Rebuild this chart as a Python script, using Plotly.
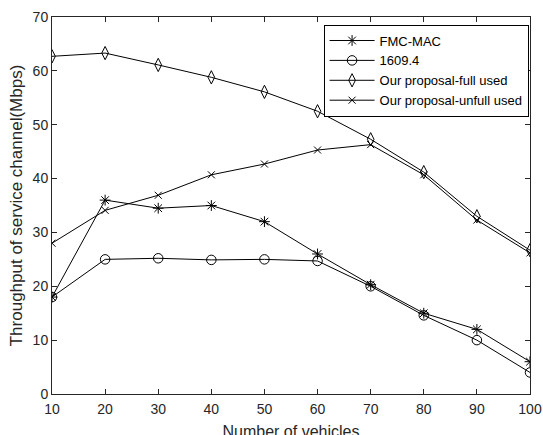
import plotly.graph_objects as go

vehicles = [10, 20, 30, 40, 50, 60, 70, 80, 90, 100]
fmc_mac = [18, 36, 34.5, 35, 32, 26, 20.3, 15, 12, 6]
ieee_1609 = [18, 25, 25.2, 24.9, 25, 24.7, 20, 14.6, 10, 4]
full_used = [62.7, 63.3, 61.1, 58.8, 56.1, 52.5, 47.3, 41.2, 33, 26.7]
unfull_used = [28, 34.1, 36.9, 40.7, 42.7, 45.3, 46.3, 40.7, 32.3, 26.2]

x_ticks = [10, 20, 30, 40, 50, 60, 70, 80, 90, 100]
y_ticks = [0, 10, 20, 30, 40, 50, 60, 70]

series = [
    ("FMC-MAC", fmc_mac, "asterisk-open", 9),
    ("1609.4", ieee_1609, "circle-open", 9.5),
    ("Our proposal-full used", full_used, "diamond-tall-open", 9.5),
    ("Our proposal-unfull used", unfull_used, "x-thin-open", 7),
]

fig = go.Figure()
for name, vals, sym, size in series:
    fig.add_trace(go.Scatter(
        x=vehicles, y=vals, name=name, mode="lines+markers",
        line=dict(color="black", width=1),
        marker=dict(symbol=sym, size=size, color="black",
                    line=dict(color="black", width=1)),
    ))

axis_common = dict(
    showgrid=False, zeroline=False, showline=True, linecolor="#262626",
    linewidth=1, mirror="ticks", ticks="inside", ticklen=5,
    tickcolor="#262626", tickfont=dict(size=14, color="#262626"),
    automargin=False,
)

fig.update_layout(
    width=543, height=440,
    margin=dict(l=52, r=13, t=17, b=46),
    plot_bgcolor="white", paper_bgcolor="white",
    font=dict(family="Liberation Sans, Arial, sans-serif", color="#262626"),
    xaxis=dict(range=[10, 100], tickvals=x_ticks, ticklabelstandoff=2,
               title=dict(text="Number of vehicles", font=dict(size=16), standoff=10),
               **axis_common),
    yaxis=dict(range=[0, 70], tickvals=y_ticks,
               title=dict(text="Throughput of service channel(Mbps)", font=dict(size=17), standoff=5),
               **axis_common),
    legend=dict(x=0.997, y=0.98, xanchor="right", yanchor="top",
                bordercolor="black", borderwidth=1, bgcolor="white",
                font=dict(size=13, color="black"), itemwidth=45,
                tracegroupgap=0),
    showlegend=True,
)

fig.write_html("out.html", config={"displayModeBar": False}, post_script=[
    "document.body.style.margin='0';document.body.style.padding='0';"
    "document.body.style.overflow='hidden';"
])
